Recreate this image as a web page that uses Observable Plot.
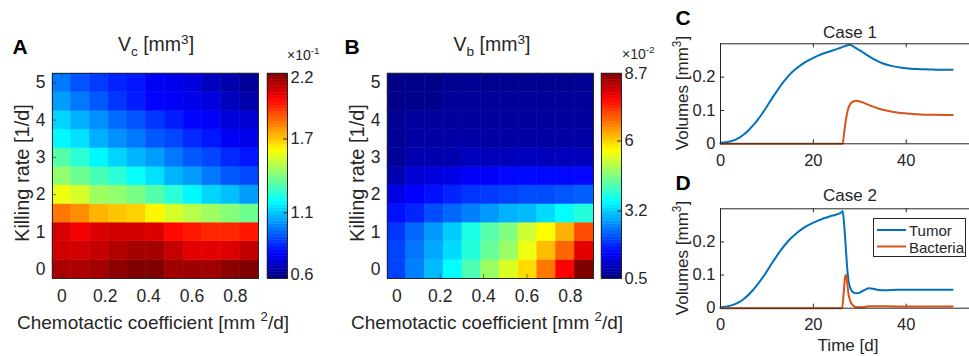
<!DOCTYPE html>
<html><head><meta charset="utf-8">
<script src="https://cdn.jsdelivr.net/npm/d3@7"></script>
<script src="https://cdn.jsdelivr.net/npm/@observablehq/plot@0.6"></script>
<style>
html,body{margin:0;padding:0;background:#fff;}
#fig{position:relative;width:969px;height:356px;overflow:hidden;font-family:"Liberation Sans",Arial,sans-serif;color:#262626;background:#fff;}
.c{position:absolute;transform:translate(-50%,-50%);white-space:nowrap;line-height:1;}
.r{position:absolute;transform:translate(-50%,-50%) rotate(-90deg);white-space:nowrap;line-height:1;}
.lt{position:absolute;white-space:nowrap;line-height:1;}
sup,sub{font-size:0.7em;line-height:0;}
.L{font-weight:bold;font-size:21px;color:#000;}
.ttl{font-size:19.5px;}
.lab{font-size:19px;}
.labv{font-size:20px;}
.lab2{font-size:17px;}
.exp{font-size:14px;}
#legend{position:absolute;left:873px;top:218px;width:91px;height:37px;border:1px solid #262626;background:#fff;font-size:15px;}
</style></head><body><div id="fig"></div>
<script>
// ---------- data ----------
const chemo = [0, 0.0864, 0.1727, 0.2591, 0.3455, 0.4318, 0.5182, 0.6045, 0.6909, 0.7773, 0.8636];
const kill = [0, 0.5, 1, 1.5, 2, 2.5, 3, 3.5, 4, 4.5, 5];
const chemoTicks = [0, 0.2, 0.4, 0.6, 0.8];
const killTicks = [0, 1, 2, 3, 4, 5];
// V_c (x10^-1 mm^3): rows = kill rate 0 -> 5, columns = chemotactic coefficient
const VcRows = [
 [2.16,2.16,2.17,2.21,2.24,2.23,2.18,2.18,2.18,2.21,2.25],
 [2.10,2.10,2.12,2.15,2.17,2.17,2.12,2.07,2.07,2.08,2.12],
 [2.09,2.04,2.08,2.10,2.10,2.08,2.01,1.99,1.96,1.96,1.99],
 [1.83,1.79,1.73,1.70,1.68,1.62,1.54,1.49,1.45,1.41,1.37],
 [1.58,1.54,1.45,1.43,1.39,1.33,1.26,1.18,1.12,1.09,1.03],
 [1.43,1.37,1.31,1.26,1.20,1.14,1.07,1.03,0.97,0.92,0.89],
 [1.33,1.26,1.18,1.12,1.07,1.03,0.97,0.92,0.89,0.84,0.81],
 [1.18,1.14,1.06,1.01,0.97,0.92,0.89,0.84,0.81,0.76,0.74],
 [1.12,1.06,1.01,0.95,0.91,0.86,0.82,0.78,0.76,0.72,0.70],
 [1.03,0.97,0.92,0.86,0.82,0.78,0.76,0.74,0.72,0.67,0.64],
 [0.97,0.91,0.87,0.83,0.81,0.76,0.74,0.72,0.67,0.64,0.61]
];
// V_b (x10^-2 mm^3)
const VbRows = [
 [2.06,2.55,3.04,3.58,4.19,4.81,5.34,5.91,6.73,7.68,8.70],
 [2.06,2.47,2.88,3.29,3.86,4.40,4.81,5.50,6.16,6.86,7.88],
 [1.94,2.35,2.76,3.17,3.78,4.27,4.60,5.22,5.63,6.24,7.06],
 [1.65,1.81,2.14,2.35,2.55,2.76,2.96,3.04,3.29,3.58,3.86],
 [1.32,1.53,1.65,1.81,1.94,1.98,2.06,2.14,2.14,2.22,2.30],
 [0.91,1.16,1.24,1.32,1.48,1.48,1.57,1.57,1.57,1.57,1.57],
 [0.70,0.87,0.87,0.87,0.99,0.99,0.99,0.99,0.99,0.99,0.99],
 [0.66,0.79,0.79,0.79,0.79,0.79,0.79,0.79,0.79,0.79,0.79],
 [0.65,0.75,0.75,0.75,0.75,0.75,0.75,0.75,0.75,0.75,0.75],
 [0.60,0.60,0.60,0.70,0.70,0.70,0.70,0.70,0.70,0.70,0.70],
 [0.57,0.57,0.57,0.65,0.65,0.65,0.65,0.65,0.65,0.65,0.65]
];
const VcDomain = [0.566, 2.232];
const VcTicks = [0.6, 1.1, 1.7, 2.2];
const VbDomain = [0.5, 8.7];
const VbTicks = [0.5, 3.2, 6, 8.7];

// Time courses
const timeTicks = [0, 20, 40];
const volTicks = [0, 0.1, 0.2];
const tTumorC = [0,2,4,5,6,7,8,9,10,11,12,13,14,15,16,18,20,22,24,26,27,27.8,28.5,29.5,30.5,31.5,33,35,37,39,41,43,45,47,50];
const vTumorC = [0.003,0.007,0.018,0.028,0.040,0.055,0.072,0.091,0.112,0.134,0.155,0.175,0.193,0.209,0.222,0.243,0.258,0.270,0.279,0.289,0.294,0.297,0.293,0.284,0.276,0.267,0.254,0.241,0.233,0.228,0.225,0.224,0.223,0.222,0.222];
const tBactC = [0,26.3,26.6,27,27.5,28,28.6,29.3,30,31,32,34,36,38,40,43,46,50];
const vBactC = [0,0,0.03,0.07,0.105,0.12,0.127,0.129,0.127,0.122,0.116,0.106,0.099,0.094,0.091,0.088,0.087,0.086];
const tTumorD = [0,2,4,5,6,7,8,9,10,11,12,13,14,15,16,18,20,22,24,26,26.3,26.7,27,27.3,27.6,28,28.6,29.3,30,31,32,32.8,34,35.5,38,42,46,50];
const vTumorD = [0.003,0.007,0.018,0.028,0.040,0.055,0.072,0.091,0.112,0.134,0.155,0.175,0.193,0.209,0.222,0.243,0.258,0.270,0.279,0.289,0.293,0.24,0.18,0.12,0.08,0.06,0.048,0.045,0.047,0.055,0.060,0.059,0.055,0.054,0.056,0.056,0.056,0.056];
const tBactD = [0,26.2,26.5,26.8,27.0,27.3,27.6,28,28.5,29.3,30.5,32,34,38,44,50];
const vBactD = [0,0,0.04,0.09,0.101,0.075,0.04,0.02,0.009,0.003,0.003,0.006,0.006,0.005,0.005,0.005];

// ---------- helpers ----------
const FONT = '"Liberation Sans", Arial, sans-serif';
const INK = "#262626";
const clamp = v => Math.max(0, Math.min(1, v));
function jet(t) {
  t = clamp(t);
  const r = clamp(1.5 - Math.abs(4 * t - 3));
  const g = clamp(1.5 - Math.abs(4 * t - 2));
  const b = clamp(1.5 - Math.abs(4 * t - 1));
  return `rgb(${Math.round(r * 255)},${Math.round(g * 255)},${Math.round(b * 255)})`;
}
const fig = document.getElementById("fig");
function place(svg, left, top) {
  svg.style.position = "absolute";
  svg.style.left = left + "px";
  svg.style.top = top + "px";
  fig.appendChild(svg);
}
function html(cls, x, y, inner, extra) {
  const d = document.createElement("div");
  d.className = cls;
  d.style.left = x + "px"; d.style.top = y + "px";
  if (extra) Object.assign(d.style, extra);
  d.innerHTML = inner;
  fig.appendChild(d);
  return d;
}
const baseStyle = {fontFamily: FONT, fontSize: "16px", color: INK, background: "transparent", overflow: "visible", maxWidth: "none"};

function heat(rows, domain) {
  const dc = chemo[1] - chemo[0], dk = kill[1] - kill[0];
  const cells = rows.flatMap((row, i) => row.map((v, j) => ({c: chemo[j], k: kill[i], v})));
  const pw = 206, ph = 205;
  return Plot.plot({
    width: 52 + pw + 4, height: 13 + ph + 40,
    marginLeft: 52, marginRight: 4, marginTop: 13, marginBottom: 40,
    style: {...baseStyle, fontSize: "17.5px"},
    x: {domain: [chemo[0] - dc / 2, chemo[chemo.length - 1] + dc / 2]},
    y: {domain: [kill[0] - dk / 2, kill[kill.length - 1] + dk / 2]},
    color: {type: "linear", domain, interpolate: jet},
    marks: [
      Plot.rect(cells, {x1: d => d.c - dc / 2, x2: d => d.c + dc / 2, y1: d => d.k - dk / 2, y2: d => d.k + dk / 2, fill: "v", stroke: "v", strokeWidth: 0.5}),
      Plot.tickX(chemoTicks, {x: d => d, insetTop: ph - 4, stroke: INK, strokeOpacity: 0.6}),
      Plot.tickX(chemoTicks, {x: d => d, insetBottom: ph - 4, stroke: INK, strokeOpacity: 0.6}),
      Plot.tickY(killTicks, {y: d => d, insetRight: pw - 4, stroke: INK, strokeOpacity: 0.6}),
      Plot.axisX({ticks: chemoTicks, tickSize: 0, tickPadding: 11, label: null, tickFormat: d => String(d)}),
      Plot.axisY({ticks: killTicks, tickSize: 0, tickPadding: 7, label: null, tickFormat: d => String(d)}),
      Plot.frame({stroke: INK, strokeWidth: 1})
    ]
  });
}
function cbar(domain, ticks) {
  const n = 64, step = (domain[1] - domain[0]) / n;
  const bands = d3.range(n).map(i => domain[0] + (i + 0.5) * step);
  return Plot.plot({
    width: 7 + 20 + 40, height: 13 + 205 + 5,
    marginLeft: 7, marginRight: 40, marginTop: 13, marginBottom: 5,
    style: {...baseStyle, fontSize: "16.5px"},
    y: {domain},
    color: {type: "linear", domain, interpolate: jet},
    marks: [
      Plot.rect(bands, {y1: d => d - step / 2, y2: d => d + step / 2, fill: d => d, stroke: d => d, strokeWidth: 0.5}),
      Plot.tickY(ticks, {y: d => d, insetLeft: 16, stroke: INK}),
      Plot.axisY({anchor: "right", ticks, tickSize: 0, tickPadding: 3, label: null, tickFormat: d => String(d)}),
      Plot.frame({stroke: INK, strokeWidth: 1})
    ]
  });
}
function lines(tT, vT, tB, vB, mt, ph) {
  const pw = 55 * 4.643;
  const tum = tT.map((t, i) => ({t, v: vT[i]}));
  const bac = tB.map((t, i) => ({t, v: vB[i]}));
  return Plot.plot({
    width: 60 + pw + 10, height: mt + ph + 40,
    marginLeft: 60, marginRight: 10, marginTop: mt, marginBottom: 40,
    style: {...baseStyle, fontSize: "16.5px"},
    x: {domain: [0, 55]},
    y: {domain: [0, 0.3]},
    marks: [
      Plot.tickX(timeTicks, {x: d => d, insetTop: ph - 4, stroke: INK}),
      Plot.tickX(timeTicks, {x: d => d, insetBottom: ph - 4, stroke: INK}),
      Plot.tickY(volTicks, {y: d => d, insetRight: pw - 4, stroke: INK}),
      Plot.line(tum, {x: "t", y: "v", stroke: "#0072BD", strokeWidth: 2, curve: "monotone-x"}),
      Plot.line(bac, {x: "t", y: "v", stroke: "#D95319", strokeWidth: 2, curve: "monotone-x"}),
      Plot.axisX({ticks: timeTicks, tickSize: 0, tickPadding: 10, label: null, tickFormat: d => String(d)}),
      Plot.axisY({ticks: volTicks, tickSize: 0, tickPadding: 5, label: null, tickFormat: d => String(d)}),
      Plot.frame({stroke: INK, strokeWidth: 1})
    ]
  });
}

// ---------- panels ----------
place(heat(VcRows, VcDomain), 0, 60);
place(cbar(VcDomain, VcTicks), 260, 60);
place(heat(VbRows, VbDomain), 335, 60);
place(cbar(VbDomain, VbTicks), 594, 60);
place(lines(tTumorC, vTumorC, tBactC, vBactC, 43.3, 100), 660, 0);
place(lines(tTumorD, vTumorD, tBactD, vBactD, 38.3, 99.4), 660, 170);

// ---------- text ----------
html("c L", 20, 46, "A");
html("c ttl", 156, 45, "V<sub>c</sub> [mm<sup>3</sup>]");
html("lt exp", 287, 48, "×10<sup>-1</sup>");
html("r labv", 22, 173, "Killing rate [1/d]");
html("c lab", 153, 322, "Chemotactic coefficient [mm <sup>2</sup>/d]");

html("c L", 352, 46, "B");
html("c ttl", 492, 45, "V<sub>b</sub> [mm<sup>3</sup>]");
html("lt exp", 622, 47, "×10<sup>-2</sup>");
html("r labv", 357, 173, "Killing rate [1/d]");
html("c lab", 487, 322, "Chemotactic coefficient [mm <sup>2</sup>/d]");

html("c L", 683, 17, "C");
html("c lab2", 850, 32, "Case 1");
html("r lab2", 682, 93, "Volumes [mm<sup>3</sup>]");
html("c L", 683, 182, "D");
html("c lab2", 850, 195, "Case 2");
html("r lab2", 682, 258, "Volumes [mm<sup>3</sup>]");
html("c lab2", 848, 345, "Time [d]");

// legend
const lg = document.createElement("div");
lg.id = "legend";
lg.innerHTML =
  '<svg width="91" height="37" style="position:absolute;left:0;top:0">' +
  '<line x1="3" x2="32" y1="11" y2="11" stroke="#0072BD" stroke-width="2"/>' +
  '<line x1="3" x2="32" y1="27.5" y2="27.5" stroke="#D95319" stroke-width="2"/></svg>' +
  '<div class="lt" style="left:35px;top:4px">Tumor</div>' +
  '<div class="lt" style="left:35px;top:20.5px">Bacteria</div>';
fig.appendChild(lg);
</script></body></html>
